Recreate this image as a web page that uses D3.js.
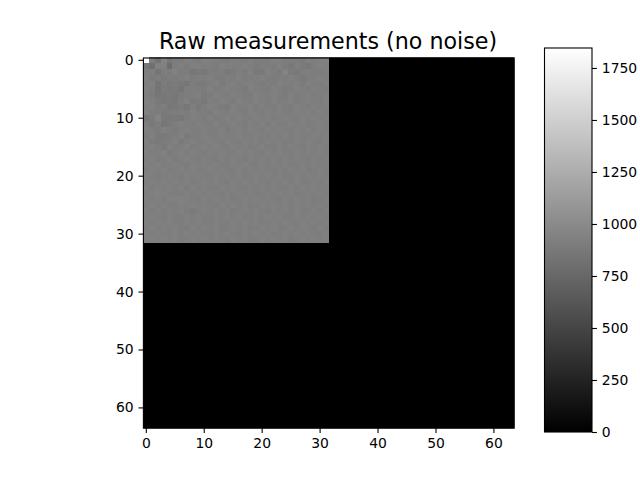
<!DOCTYPE html>
<html>
<head>
<meta charset="utf-8">
<script src="https://cdn.jsdelivr.net/npm/d3@7"></script>
<style>
  html, body { margin: 0; padding: 0; background: #fff; }
  svg text { font-family: "DejaVu Sans", sans-serif; fill: #000; }
</style>
</head>
<body>
<svg id="chart" width="640" height="480"></svg>
<script>
const rawRows = [
  [1840,915,835,945,860,905,905,925,915,900,925,930,910,905,900,920,910,905,925,905,895,900,930,925,905,895,900,885,920,915,930,935],
  [ 870,800,935,930,790,905,920,900,925,930,905,915,900,925,910,915,905,925,915,890,905,915,900,925,895,870,915,880,870,905,925,920],
  [ 905,915,850,910,895,940,900,895,860,885,870,895,900,905,875,880,915,900,925,885,875,925,905,880,945,890,875,905,920,905,900,915],
  [ 925,890,905,880,905,900,915,925,900,910,905,925,900,890,915,905,925,895,905,915,925,905,890,915,905,925,900,875,905,915,925,910],
  [ 915,930,850,895,870,890,875,860,905,885,880,905,925,890,915,925,900,910,925,905,890,910,900,925,915,905,920,895,925,915,905,925],
  [ 930,905,845,885,870,880,855,905,915,895,900,925,895,905,925,915,905,890,925,915,905,900,925,910,895,905,925,915,900,925,915,905],
  [ 920,895,855,870,880,860,890,905,915,925,885,900,925,910,905,925,915,905,895,925,910,905,925,915,900,925,905,915,925,905,915,925],
  [ 925,915,880,860,875,865,905,925,890,900,870,915,905,925,910,900,925,915,905,925,915,895,925,905,915,925,900,915,925,910,905,925],
  [ 915,925,890,905,870,875,890,860,915,875,905,925,915,900,885,925,905,915,925,905,925,915,905,925,915,900,925,915,905,925,915,920],
  [ 925,905,895,880,890,905,915,895,925,905,915,900,925,915,905,925,915,895,925,915,905,925,910,925,915,905,925,915,925,905,925,915],
  [ 860,890,945,875,870,875,865,905,925,915,900,925,905,915,925,905,925,915,905,925,915,925,905,915,925,915,905,925,915,925,910,920],
  [ 915,885,905,865,880,900,925,915,905,925,915,905,925,900,915,925,915,905,925,915,925,905,925,915,905,925,915,925,905,915,925,915],
  [ 925,915,890,925,905,885,915,925,905,915,925,905,915,925,890,915,925,905,925,915,905,925,915,925,915,905,925,915,925,905,925,915],
  [ 905,925,880,875,890,905,925,890,915,905,925,915,905,925,915,905,925,915,905,925,915,905,925,915,925,915,925,905,915,925,915,925],
  [ 925,895,875,900,905,925,880,915,925,905,915,925,915,905,925,915,905,925,915,925,905,925,915,925,905,915,925,915,925,915,905,925],
  [ 915,925,905,885,925,905,915,925,905,915,925,910,925,915,905,925,915,925,905,915,925,915,905,925,915,925,915,905,925,915,925,915],
  [ 925,905,915,925,890,915,925,905,925,915,905,925,915,925,915,905,925,915,925,915,905,925,915,925,915,905,925,915,925,915,925,920],
  [ 915,925,900,915,925,905,915,925,915,905,925,915,905,925,915,925,915,905,925,915,925,915,925,905,925,915,925,915,905,925,915,925],
  [ 925,915,925,905,915,925,915,905,925,915,925,915,925,905,915,925,915,925,915,905,925,915,925,915,925,905,915,925,915,925,915,920],
  [ 905,925,915,925,905,915,925,915,925,905,915,925,915,925,915,905,925,915,925,915,925,915,905,925,915,925,915,925,905,915,925,915],
  [ 925,915,905,915,925,915,905,925,915,925,915,905,925,915,925,915,925,905,915,925,915,925,915,925,905,915,925,915,925,915,925,920],
  [ 915,925,915,925,910,925,915,925,905,915,925,915,925,915,905,925,915,925,915,925,915,905,925,915,925,915,925,905,915,925,915,925],
  [ 925,905,925,915,925,915,925,905,925,915,925,905,915,925,915,925,915,905,925,915,925,915,925,915,905,925,915,925,915,925,915,920],
  [ 915,925,940,925,915,905,915,925,915,925,915,925,915,905,925,915,925,915,925,905,915,925,915,925,915,925,905,915,925,915,925,915],
  [ 925,915,925,905,925,925,935,925,915,905,925,915,925,915,925,905,915,925,915,925,915,925,915,905,925,915,925,915,925,905,915,925],
  [ 915,925,915,925,915,905,925,915,925,915,925,915,905,925,915,925,915,925,905,915,925,915,925,915,925,905,925,915,925,915,925,920],
  [ 925,915,925,915,925,915,925,905,890,915,925,915,925,915,925,905,915,925,915,925,915,905,925,915,925,915,925,905,915,925,915,925],
  [ 915,925,915,905,925,915,905,925,915,925,915,905,925,915,925,915,925,905,915,925,915,925,915,925,905,915,925,915,925,915,925,915],
  [ 925,905,925,915,925,905,915,925,915,925,905,915,925,915,905,925,915,925,915,925,905,915,925,915,925,915,905,925,915,925,915,920],
  [ 915,925,915,925,915,925,915,905,925,915,925,915,925,905,915,925,915,925,905,915,925,915,925,905,915,925,915,925,915,905,925,915],
  [ 925,915,925,915,905,925,915,925,915,925,915,905,925,915,925,915,905,925,915,925,915,925,905,915,925,915,925,915,925,915,905,925],
  [ 915,925,915,925,915,925,905,915,925,915,925,915,925,915,905,925,915,925,915,905,925,915,925,915,925,905,915,925,915,925,915,920]
];
const gridSize = 64;
const axisTicks = [0, 10, 20, 30, 40, 50, 60];
const colorTicks = [0, 250, 500, 750, 1000, 1250, 1500, 1750];
const colorMax = 1846;
const chartTitle = "Raw measurements (no noise)";

const svg = d3.select("#chart");
const plot = { left: 143.4, right: 514.2, top: 57.4, bottom: 428.2 };
const bar = { left: 544.5, right: 592, top: 48, bottom: 432 };

const x = d3.scaleBand().domain(d3.range(gridSize)).range([plot.left, plot.right]);
const y = d3.scaleBand().domain(d3.range(gridSize)).range([plot.top, plot.bottom]);
const gray = d3.scaleLinear().domain([0, colorMax]).range(["#000", "#fff"]).clamp(true);

/* everything outside the measured block is zero, so it is just the black background cell */
svg.append("rect")
  .attr("x", plot.left).attr("y", plot.top)
  .attr("width", plot.right - plot.left).attr("height", plot.bottom - plot.top)
  .attr("fill", gray(0));

const cells = rawRows.flatMap((row, r) => row.map((v, c) => ({ r, c, v })));
svg.append("g").selectAll("rect").data(cells).join("rect")
  .attr("x", d => x(d.c))
  .attr("y", d => y(d.r))
  .attr("width", x.bandwidth())
  .attr("height", y.bandwidth())
  .attr("fill", d => gray(d.v))
  .attr("shape-rendering", "crispEdges");

function styleAxis(g) {
  g.selectAll(".domain").remove();
  g.selectAll(".tick line").attr("stroke", "#000").attr("stroke-width", 1.1);
  g.selectAll(".tick text").attr("font-size", 13.9).attr("font-family", "DejaVu Sans");
}

svg.append("g").attr("transform", `translate(0,${plot.bottom})`)
  .call(d3.axisBottom(x).tickValues(axisTicks).tickSize(4.9).tickPadding(4.9).tickSizeOuter(0))
  .call(styleAxis);
svg.append("g").attr("transform", `translate(${plot.left},0)`)
  .call(d3.axisLeft(y).tickValues(axisTicks).tickSize(4.9).tickPadding(4.9).tickSizeOuter(0))
  .call(styleAxis);

svg.append("rect")
  .attr("x", plot.left).attr("y", 58)
  .attr("width", plot.right - plot.left).attr("height", plot.bottom - 58)
  .attr("fill", "none").attr("stroke", "#000").attr("stroke-width", 1.1);

svg.append("text")
  .attr("x", 328).attr("y", 49)
  .attr("text-anchor", "middle").attr("font-size", 22.2).text(chartTitle);

/* colorbar */
const defs = svg.append("defs");
const grad = defs.append("linearGradient").attr("id", "bar-grad")
  .attr("x1", 0).attr("x2", 0).attr("y1", 1).attr("y2", 0);
grad.append("stop").attr("offset", 0).attr("stop-color", gray(0));
grad.append("stop").attr("offset", 1).attr("stop-color", gray(colorMax));

const cScale = d3.scaleLinear().domain([0, colorMax]).range([bar.bottom, bar.top]);
svg.append("rect")
  .attr("x", bar.left).attr("y", bar.top)
  .attr("width", bar.right - bar.left).attr("height", bar.bottom - bar.top)
  .attr("fill", "url(#bar-grad)").attr("stroke", "#000").attr("stroke-width", 1.1);
svg.append("g").attr("transform", `translate(${bar.right},0)`)
  .call(d3.axisRight(cScale).tickValues(colorTicks).tickFormat(d3.format("d")).tickSize(4.9).tickPadding(4.9).tickSizeOuter(0))
  .call(styleAxis);
</script>
</body>
</html>
